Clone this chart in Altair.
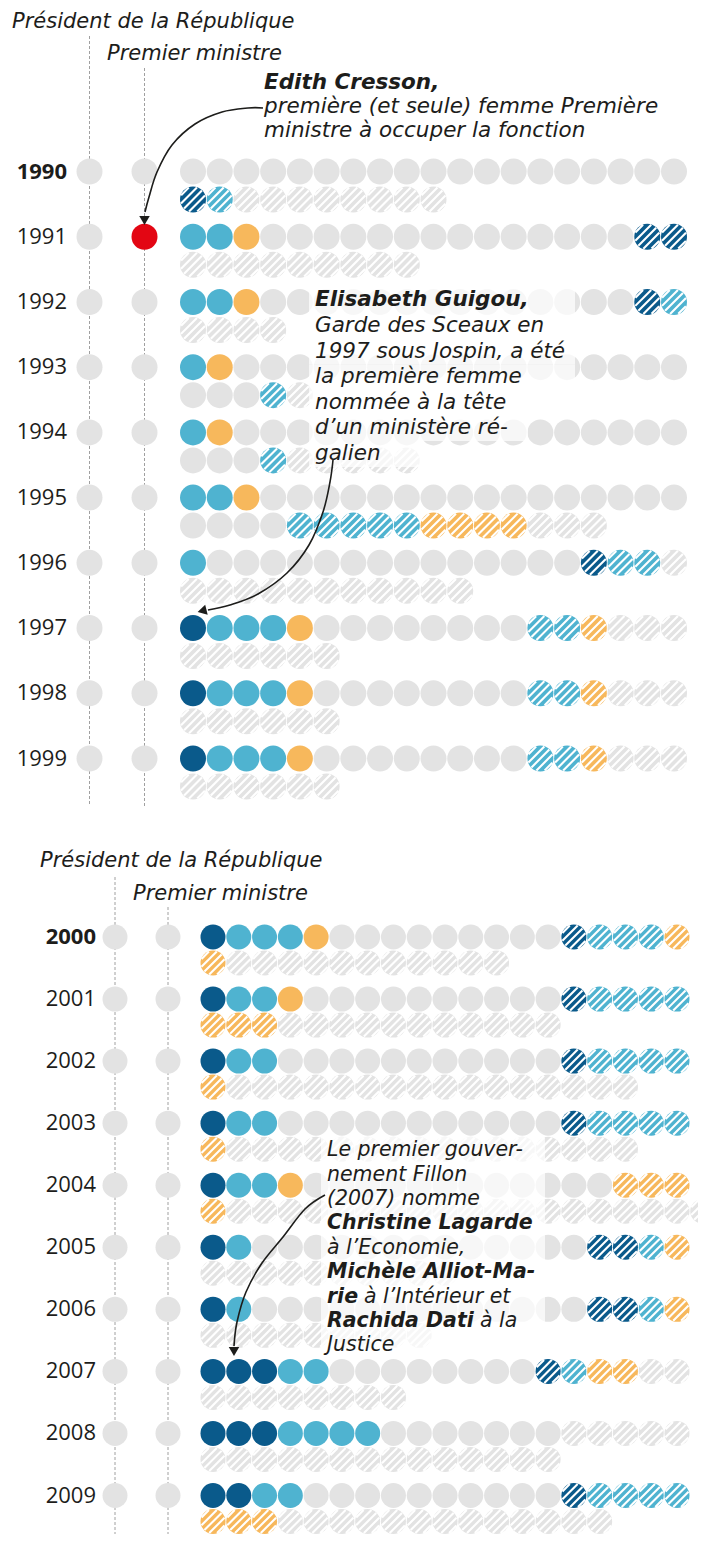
import altair as alt
import pandas as pd
import numpy as np

# ------------------------------------------------------------------ data
years_a = list(range(1990, 2000))
years_b = list(range(2000, 2010))

# members per category, in drawing order:
# solid dark blue, solid light blue, solid orange, solid grey,
# hatched dark blue, hatched light blue, hatched orange, hatched grey
solid_dark_a   = [0, 0, 0, 0, 0, 0, 0, 1, 1, 1]
solid_light_a  = [0, 2, 2, 1, 1, 2, 1, 3, 3, 3]
solid_orange_a = [0, 1, 1, 1, 1, 1, 0, 1, 1, 1]
solid_grey_a   = [19, 14, 14, 20, 20, 20, 14, 8, 8, 8]
hatch_dark_a   = [1, 2, 1, 0, 0, 0, 1, 0, 0, 0]
hatch_light_a  = [1, 0, 1, 1, 1, 5, 2, 2, 2, 2]
hatch_orange_a = [0, 0, 0, 0, 0, 4, 0, 1, 1, 1]
hatch_grey_a   = [8, 9, 4, 1, 5, 3, 12, 9, 9, 9]
pres_female_a  = [0, 0, 0, 0, 0, 0, 0, 0, 0, 0]
pm_female_a    = [0, 1, 0, 0, 0, 0, 0, 0, 0, 0]

solid_dark_b   = [1, 1, 1, 1, 1, 1, 1, 3, 3, 2]
solid_light_b  = [3, 2, 2, 2, 2, 1, 1, 2, 4, 2]
solid_orange_b = [1, 1, 0, 0, 1, 0, 0, 0, 0, 0]
solid_grey_b   = [9, 10, 11, 11, 12, 13, 13, 8, 7, 10]
hatch_dark_b   = [1, 1, 1, 1, 0, 2, 2, 1, 0, 1]
hatch_light_b  = [3, 4, 4, 4, 0, 1, 1, 1, 0, 4]
hatch_orange_b = [2, 3, 1, 1, 4, 1, 1, 2, 0, 3]
hatch_grey_b   = [11, 11, 16, 16, 19, 10, 9, 10, 19, 13]
pres_female_b  = [0, 0, 0, 0, 0, 0, 0, 0, 0, 0]
pm_female_b    = [0, 0, 0, 0, 0, 0, 0, 0, 0, 0]

PER_ROW = 19
CATS = ["D", "L", "O", "G", "d", "l", "o", "g"]

# ------------------------------------------------------------------ style
FONT = "DejaVu Sans"
YEAR_FONT = "Open Sans"
INK = "#1d1d1b"
GREY = "#e3e3e3"
RED = "#e30613"
CAT_DOMAIN = ["D", "L", "O", "G"]
CAT_RANGE = ["#0a5a8b", "#4fb3d0", "#f7b85c", GREY]
FS = 21.5
FSH = 21
PANEL_W = 690


def build_circles(years, arrays):
    recs = []
    for i, yr in enumerate(years):
        seq = []
        for c, arr in zip(CATS, arrays):
            seq += [c] * arr[i]
        for k, c in enumerate(seq):
            line = 0 if k < PER_ROW else 1
            recs.append({"year": yr, "line": line, "idx": k - line * PER_ROW,
                         "cat": c.upper(), "hatched": int(c.islower())})
    return pd.DataFrame(recs)


def stripe_path(n=5, step=0.62, rr=0.97):
    parts = []
    s2 = np.sqrt(2)
    for j in range(n):
        c = (j - (n - 1) / 2) * step
        v = c / s2
        if abs(v) >= rr:
            continue
        u = np.sqrt(rr * rr - v * v)
        x1, y1 = (u + v) / s2, (v - u) / s2
        x2, y2 = (v - u) / s2, (v + u) / s2
        parts.append(f"M{x1:.3f},{y1:.3f}L{x2:.3f},{y2:.3f}")
    return "".join(parts)


STRIPES = stripe_path()


def make_panel(years, arrays, pres_f, pm_f, g, texts, rects, arrows, heads):
    T, Lm = g["top"], 8
    circles = build_circles(years, arrays)
    xs = alt.Scale(domain=[0, 18], range=[g["x0"] - Lm, g["x18"] - Lm], zero=False, nice=False)
    ys = alt.Scale(domain=[years[0], years[-1]], range=[g["y0"] - T, g["y9"] - T], zero=False, nice=False)
    X = alt.X("idx:Q", scale=xs, axis=None)
    Y = alt.Y("year:Q", scale=ys, axis=None)
    S = g["size"]

    layers = []
    rules = pd.DataFrame({"x": [g["px"] - Lm, g["mx"] - Lm],
                          "y1": [g["pl_top"] - T, g["ml_top"] - T],
                          "y2": [g["bottom"] - T] * 2})
    layers.append(alt.Chart(rules).mark_rule(color="#a0a0a0", strokeWidth=1, strokeDash=[3, 2]).encode(
        x=alt.X("x:Q", scale=None), y=alt.Y("y1:Q", scale=None), y2="y2:Q"))

    cols = pd.DataFrame({"year": years, "label": [str(y) for y in years],
                         "pres_f": pres_f, "pm_f": pm_f})
    for xpix, fld in ((g["px"], "pres_f"), (g["mx"], "pm_f")):
        layers.append(alt.Chart(cols).mark_circle(size=S, opacity=1).encode(
            x=alt.value(xpix - Lm), y=Y,
            color=alt.condition(f"datum.{fld} == 1", alt.value(RED), alt.value(GREY))))
    for wt, flt in (("bold", f"datum.year == {years[0]}"), ("normal", f"datum.year != {years[0]}")):
        layers.append(alt.Chart(cols).mark_text(font=YEAR_FONT, fontSize=22, fontWeight=wt, align="right",
                                                baseline="middle", color=INK).encode(
            x=alt.value(g["lx"] - Lm), y=Y, text="label:N").transform_filter(flt))

    color = alt.Color("cat:N", scale=alt.Scale(domain=CAT_DOMAIN, range=CAT_RANGE), legend=None)
    for line in (0, 1):
        off = g["sub"] * line
        layers.append(alt.Chart(circles).mark_circle(size=S, opacity=1, yOffset=off, clip=True).encode(
            x=X, y=Y, color=color).transform_filter(f"datum.line == {line}"))
        layers.append(alt.Chart(circles).mark_point(shape=STRIPES, size=S, filled=False, color="white",
                                                    strokeWidth=2.1, opacity=1, yOffset=off, clip=True).encode(
            x=X, y=Y).transform_filter(f"datum.line == {line} && datum.hatched == 1"))

    if rects:
        rdf = pd.DataFrame([{"x1": a - Lm, "x2": b - Lm, "y1": c - T, "y2": d - T} for a, b, c, d in rects])
        layers.append(alt.Chart(rdf).mark_rect(color="white", opacity=0.72).encode(
            x=alt.X("x1:Q", scale=None), x2="x2:Q", y=alt.Y("y1:Q", scale=None), y2="y2:Q"))

    tdf = pd.DataFrame([{"text": t, "x": x - Lm, "y": y - T, "w": w, "fs": fs} for t, x, y, w, fs in texts])
    for wt in ("normal", "bold"):
        sub = tdf[tdf.w == wt]
        if len(sub):
            layers.append(alt.Chart(sub).mark_text(font=FONT, fontStyle="italic", fontWeight=wt, align="left",
                                                   baseline="middle", color=INK).encode(
                x=alt.X("x:Q", scale=None), y=alt.Y("y:Q", scale=None), text="text:N",
                size=alt.Size("fs:Q", scale=None, legend=None)))

    if arrows:
        adf = pd.DataFrame([{"aid": i, "o": k, "x": x - Lm, "y": y - T}
                            for i, pts in enumerate(arrows) for k, (x, y) in enumerate(pts)])
        layers.append(alt.Chart(adf).mark_line(color=INK, strokeWidth=1.6, interpolate="cardinal").encode(
            x=alt.X("x:Q", scale=None), y=alt.Y("y:Q", scale=None), order="o:Q", detail="aid:N"))
        hdf = pd.DataFrame([{"x": x - Lm, "y": y - T, "ang": a} for x, y, a in heads])
        layers.append(alt.Chart(hdf).mark_point(shape="triangle", filled=True, size=110, color=INK,
                                                opacity=1).encode(
            x=alt.X("x:Q", scale=None), y=alt.Y("y:Q", scale=None), angle=alt.Angle("ang:Q", scale=None)))

    return alt.layer(*layers).resolve_scale(x="independent", y="independent").properties(
        width=PANEL_W, height=g["height"])


# ------------------------------------------------------------------ layout (page pixels)
g_top = dict(top=8, height=832, x0=193, x18=674, y0=171.5, y9=758.5, sub=28, size=676,
             px=89.5, mx=144.5, pl_top=36, ml_top=68, bottom=806, lx=67)
g_bot = dict(top=840, height=694, x0=213, x18=677, y0=937, y9=1495.5, sub=26, size=625,
             px=115, mx=168, pl_top=877, ml_top=907, bottom=1534, lx=96)

texts_top = [
    ("Président de la République", 12, 21.5, "normal", FSH),
    ("Premier ministre", 107, 53.5, "normal", FSH),
    ("Edith Cresson,", 264, 83, "bold", FS),
    ("première (et seule) femme Première", 264, 107, "normal", FS),
    ("ministre à occuper la fonction", 264, 131, "normal", FS),
    ("Elisabeth Guigou,", 315, 300, "bold", FS),
    ("Garde des Sceaux en", 315, 326, "normal", FS),
    ("1997 sous Jospin, a été", 315, 351.5, "normal", FS),
    ("la première femme", 315, 377, "normal", FS),
    ("nommée à la tête", 315, 402.5, "normal", FS),
    ("d’un ministère ré-", 315, 428, "normal", FS),
    ("galien", 315, 453.5, "normal", FS),
]
rects_top = [
    (309, 575, 287, 313), (309, 575, 313, 339), (309, 575, 339, 364.5), (309, 575, 364.5, 390),
    (309, 528, 390, 415), (309, 528, 415, 441), (309, 420, 441, 467),
]
arrows_top = [
    [(263, 108), (248, 108), (222, 112), (195, 124), (172, 145), (157, 172), (149, 197), (145, 212)],
    [(333, 460), (330, 482), (323, 512), (309, 545), (287, 573), (258, 594), (230, 605), (208, 610)],
]
heads_top = [(144.5, 219, 180), (203.5, 610.5, 256)]

FS2 = 20.5
texts_bot = [
    ("Président de la République", 40, 861, "normal", FSH),
    ("Premier ministre", 133, 894, "normal", FSH),
    ("Le premier gouver-", 327, 1150, "normal", FS2),
    ("nement Fillon", 327, 1175, "normal", FS2),
    ("(2007) nomme", 327, 1199, "normal", FS2),
    ("Christine Lagarde", 327, 1223, "bold", FS2),
    ("à l’Economie,", 327, 1248, "normal", FS2),
    ("Michèle Alliot-Ma-", 327, 1272, "bold", FS2),
    ("rie", 327, 1297, "bold", FS2),
    ("à l’Intérieur et", 364, 1297, "normal", FS2),
    ("Rachida Dati", 327, 1321, "bold", FS2),
    ("à la", 480, 1321, "normal", FS2),
    ("Justice", 327, 1345, "normal", FS2),
]
rects_bot = [(321, 545, 1137, 1357)]
arrows_bot = [
    [(325, 1195), (305, 1209), (283, 1237), (262, 1263), (246, 1292), (237, 1322), (234, 1346)],
]
heads_bot = [(234, 1350, 180)]

top = make_panel(years_a, [solid_dark_a, solid_light_a, solid_orange_a, solid_grey_a,
                           hatch_dark_a, hatch_light_a, hatch_orange_a, hatch_grey_a],
                 pres_female_a, pm_female_a, g_top, texts_top, rects_top, arrows_top, heads_top)
bottom = make_panel(years_b, [solid_dark_b, solid_light_b, solid_orange_b, solid_grey_b,
                              hatch_dark_b, hatch_light_b, hatch_orange_b, hatch_grey_b],
                    pres_female_b, pm_female_b, g_bot, texts_bot, rects_bot, arrows_bot, heads_bot)

chart = alt.vconcat(top, bottom, spacing=0, bounds="flush", padding=0, background="white").configure_view(
    stroke=None)

chart.save("out.html", embed_options={"renderer": "svg", "actions": False})
